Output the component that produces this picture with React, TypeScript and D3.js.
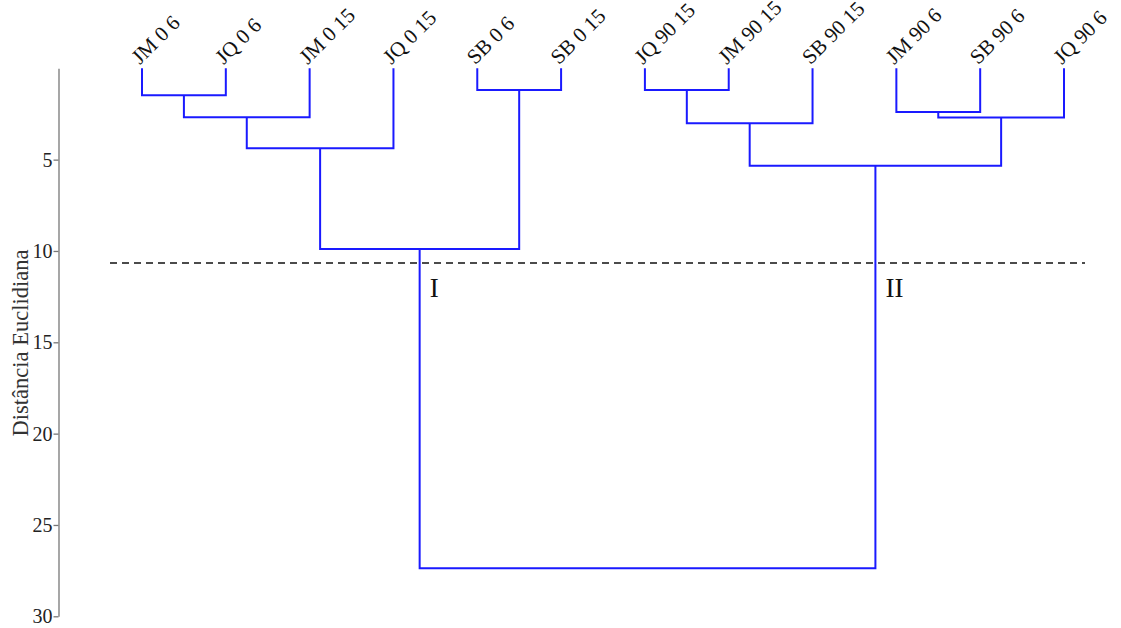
import React, { useEffect, useRef } from 'react';
import * as d3 from 'd3';

// leaf order along the x axis
const leaves = [
  'JM 0 6', 'JQ 0 6', 'JM 0 15', 'JQ 0 15', 'SB 0 6', 'SB 0 15',
  'JQ 90 15', 'JM 90 15', 'SB 90 15', 'JM 90 6', 'SB 90 6', 'JQ 90 6',
];

// merges: [left, right, height]; ids < 12 are leaves, 12+ are earlier merges
const mergeLeft = [0, 12, 4, 13, 6, 16, 9, 18, 17, 15, 21];
const mergeRight = [1, 2, 5, 3, 7, 8, 10, 11, 19, 14, 20];
const mergeHeight = [1.48, 2.68, 1.19, 4.38, 1.19, 3.01, 2.39, 2.7, 5.33, 9.89, 27.37];

const cutHeight = 10.66;
const yTicks = [5, 10, 15, 20, 25, 30];
const groupLabels = ['I', 'II'];

const App = () => {
  const width = 1121;
  const height = 628;
  const axisRef = useRef<SVGGElement>(null);

  const x = d3.scalePoint<string>().domain(leaves).range([142, 1064]);
  const y = d3.scaleLinear().domain([0, 30]).range([68.3, 616.3]);

  useEffect(() => {
    const g = d3.select(axisRef.current);
    g.selectAll('*').remove();
    g.call(d3.axisLeft(y).tickValues(yTicks).tickSize(5).tickSizeOuter(0));
    g.select('.domain').attr('stroke', '#777').attr('stroke-width', 1.3);
    g.selectAll('.tick line').attr('stroke', '#777').attr('stroke-width', 1.3);
    g.selectAll('.tick text')
      .attr('font-family', 'Liberation Serif, serif')
      .attr('font-size', 20)
      .attr('fill', '#222')
      .attr('x', -6);
  }, []);

  // node positions
  const nodeX: number[] = leaves.map((l) => x(l) as number);
  const nodeH: number[] = leaves.map(() => 0);
  mergeLeft.forEach((l, i) => {
    nodeX.push((nodeX[l] + nodeX[mergeRight[i]]) / 2);
    nodeH.push(mergeHeight[i]);
  });

  const paths = mergeLeft.map((l, i) => {
    const r = mergeRight[i];
    const h = mergeHeight[i];
    return `M${nodeX[l]},${y(nodeH[l])}V${y(h)}H${nodeX[r]}V${y(nodeH[r])}`;
  });

  const last = mergeLeft.length - 1;
  const clusterX = [nodeX[mergeLeft[last]], nodeX[mergeRight[last]]];

  return (
    <svg width={width} height={height} style={{ position: 'absolute', left: 0, top: 0 }}>
      <g ref={axisRef} transform="translate(58.5,0)" />
      <text
        transform={`translate(28,343) rotate(-90)`}
        textAnchor="middle"
        fontFamily="Liberation Serif, serif"
        fontSize={22.5}
        fill="#333"
      >
        Distância Euclidiana
      </text>
      {paths.map((d, i) => (
        <path key={i} d={d} fill="none" stroke="#1a1aff" strokeWidth={2} />
      ))}
      <line
        x1={110}
        x2={1085}
        y1={y(cutHeight)}
        y2={y(cutHeight)}
        stroke="#111"
        strokeWidth={1.6}
        strokeDasharray="7,5"
      />
      {groupLabels.map((t, i) => (
        <text
          key={t}
          x={clusterX[i] + 10}
          y={y(cutHeight) + 34}
          fontFamily="Liberation Serif, serif"
          fontSize={27}
          fill="#111"
        >
          {t}
        </text>
      ))}
      {leaves.map((l) => (
        <text
          key={l}
          transform={`translate(${(x(l) as number) - 2},${y(0) - 3}) rotate(-45)`}
          fontFamily="Liberation Serif, serif"
          fontSize={21}
          fill="#111"
        >
          {l}
        </text>
      ))}
    </svg>
  );
};

export default App;
